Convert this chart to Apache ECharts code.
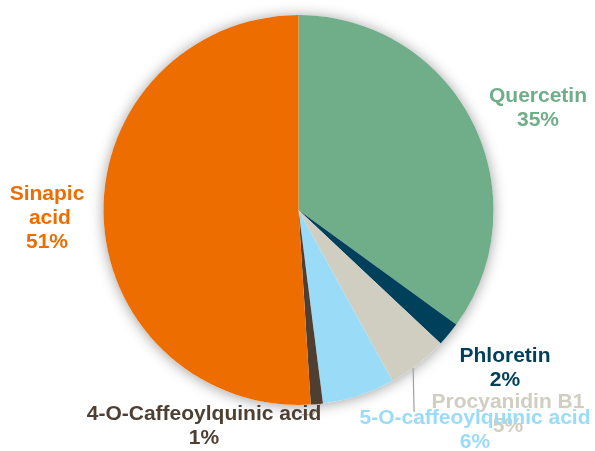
<!DOCTYPE html>
<html>
<head>
<meta charset="utf-8">
<script src="https://cdn.jsdelivr.net/npm/echarts@6/dist/echarts.min.js"></script>
<style>
  html, body { margin: 0; padding: 0; background: #fff; }
  #chart { width: 595px; height: 451px; }
</style>
</head>
<body>
<div id="chart"></div>
<script>
// Compound shares (percent), clockwise from 12 o'clock
var compounds = ['Quercetin', 'Phloretin', 'Procyanidin B1', '5-O-caffeoylquinic acid', '4-O-Caffeoylquinic acid', 'Sinapic acid'];
var shares = [35, 2, 5, 6, 1, 51];
var sliceColors = ['#70AD89', '#00405A', '#CFCEC0', '#9ADCF7', '#4E3F32', '#EE6D00'];

// Where each label block is centred
var labelSpots = [[538, 108], [505, 368], [508, 414], [475, 430], [204, 426], [47, 218]];
// Leader lines: where along the slice's arc they start (0..1), and their path shape
var leaderAnchor = [null, null, 0.6, null, 0.2, null];

var CX = 298.5, CY = 210, R = 195;

var chart = echarts.init(document.getElementById('chart'), null, { renderer: 'canvas' });

var total = shares.reduce(function (a, b) { return a + b; }, 0);

// point on the rim, a fraction of the way through slice i (clockwise from top)
function rimPoint(i, frac) {
  var before = 0;
  for (var k = 0; k < i; k++) before += shares[k];
  var deg = 90 - (before + shares[i] * frac) / total * 360;
  var rad = deg * Math.PI / 180;
  return [CX + R * Math.cos(rad), CY - R * Math.sin(rad)];
}

var data = compounds.map(function (name, i) {
  var item = {
    name: name,
    value: shares[i],
    itemStyle: { color: sliceColors[i] },
    label: { color: sliceColors[i] },
    labelLine: { show: leaderAnchor[i] !== null }
  };
  if (name === 'Sinapic acid') {
    item.label.width = 80;
    item.label.overflow = 'break';
  }
  return item;
});

chart.setOption({
  backgroundColor: '#ffffff',
  animation: false,
  series: [
    {
      // soft drop shadow behind the whole disc
      type: 'pie',
      silent: true,
      z: 1,
      center: [CX, CY],
      radius: R,
      label: { show: false },
      labelLine: { show: false },
      itemStyle: {
        color: '#ffffff',
        shadowBlur: 14,
        shadowColor: 'rgba(0,0,0,0.38)',
        shadowOffsetX: 0,
        shadowOffsetY: 1
      },
      data: [{ value: 1, name: '' }]
    },
    {
      type: 'pie',
      z: 2,
      center: [CX, CY],
      radius: R,
      startAngle: 90,
      clockwise: true,
      avoidLabelOverlap: false,
      itemStyle: { borderWidth: 0 },
      label: {
        show: true,
        position: 'outside',
        formatter: function (p) { return p.name + '\n' + Math.round(p.percent) + '%'; },
        fontFamily: 'Liberation Sans, Arial, sans-serif',
        fontWeight: 'bold',
        fontSize: 21,
        lineHeight: 24,
        align: 'center'
      },
      labelLine: {
        length: 10,
        length2: 10,
        lineStyle: { color: '#A0A0A0', width: 1.2 }
      },
      labelLayout: function (params) {
        var i = params.dataIndex;
        var spot = labelSpots[i];
        var out = { x: spot[0], y: spot[1], align: 'center', verticalAlign: 'middle' };
        if (leaderAnchor[i] !== null) {
          var s = rimPoint(i, leaderAnchor[i]);
          if (compounds[i] === 'Procyanidin B1') {
            // straight drop to the left of the label
            out.labelLinePoints = [s, [s[0] + 1, spot[1] - 2]];
          } else {
            // short diagonal then a tick back under the label text
            var m = [s[0] - 8, s[1] + 11];
            out.labelLinePoints = [s, m, [m[0] - 11, m[1]]];
          }
        }
        return out;
      },
      data: data
    }
  ]
});
</script>
</body>
</html>
